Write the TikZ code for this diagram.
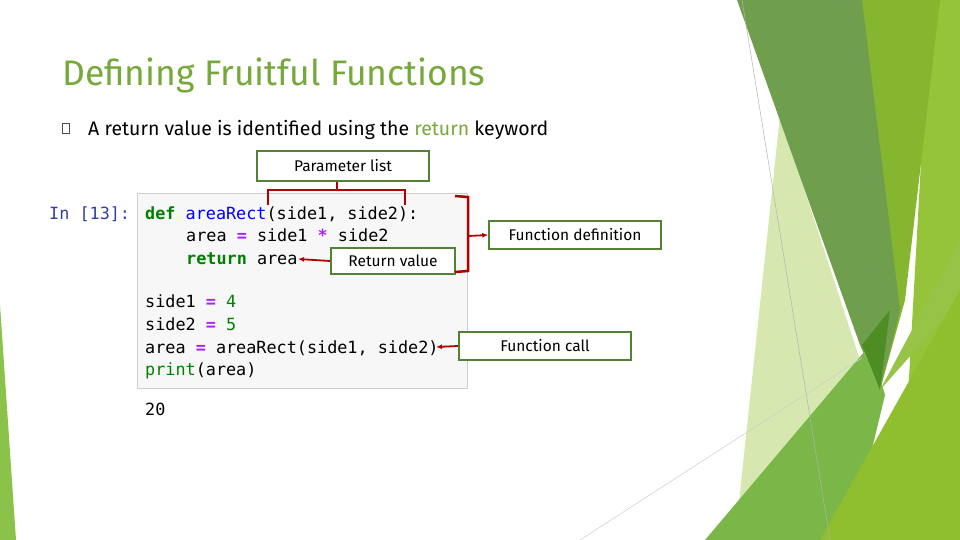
\documentclass[tikz,border=0pt]{standalone}
\usepackage{fontspec}
\setmainfont{Fira Sans}
\setmonofont{DejaVu Sans Mono}
\usetikzlibrary{arrows.meta}
\definecolor{ttl}{HTML}{76A83A}
\definecolor{bx}{HTML}{548235}
\definecolor{rd}{HTML}{B00000}
\definecolor{kw}{HTML}{008000}
\definecolor{fn}{HTML}{0000FF}
\definecolor{op}{HTML}{AA22FF}
\definecolor{inp}{HTML}{303F9F}
\tikzset{lbl/.style={draw=bx,line width=1.6pt,fill=white,inner sep=0pt,font=\fontsize{15.5}{17}\selectfont},
code/.style={anchor=base west,inner sep=0pt,font=\ttfamily\fontsize{16.8}{18}\selectfont},
br/.style={draw=rd,line width=2.5pt},
ar/.style={draw=rd,line width=1.8pt,-{Latex[length=6pt,width=5pt]}}}
\newcommand{\K}[1]{\textcolor{kw}{\textbf{#1}}}
\newcommand{\Q}{\textcolor{op}{\textbf{=}}}
\begin{document}
\begin{tikzpicture}[x=1pt,y=-1pt]
\useasboundingbox (0,0) rectangle (960,540);
% decoration
\fill[fill={rgb,255:red,149;green,196;blue,58}] (930,0) -- (960,0) -- (960,540) -- (900,540) -- cycle;
\fill[fill={rgb,255:red,134;green,181;blue,47}] (860,0) -- (940,0) -- (905,300) -- (880,390) -- cycle;
\fill[fill={rgb,255:red,214;green,232;blue,176}] (780,115) -- (860,360) -- (760,540) -- (735,540) -- cycle;
\fill[fill={rgb,255:red,111;green,158;blue,76}] (737,0) -- (862,0) -- (900,310) -- (880,390) -- (860,345) -- cycle;
\fill[fill={rgb,255:red,122;green,182;blue,72}] (705,540) -- (870,345) -- (885,395) -- (850,540) -- cycle;
\fill[fill={rgb,255:red,78;green,140;blue,36}] (862,345) -- (890,310) -- (880,390) -- cycle;
\fill[fill={rgb,255:red,150;green,196;blue,70}] (880,390) -- (960,240) -- (960,300) -- cycle;
\fill[fill={rgb,255:red,143;green,191;blue,47}] (820,540) -- (960,290) -- (960,540) -- cycle;
\fill[fill={rgb,255:red,139;green,195;blue,74}] (0,305) -- (16,540) -- (0,540) -- cycle;
\draw[gray!60,line width=0.5pt] (742,0) -- (830,540);
\draw[gray!40,line width=0.5pt] (580,540) -- (862,358);
% title and bullet
\node[anchor=base west,inner sep=0pt,text=ttl,font=\fontsize{35.5}{38}\selectfont] (title) at (62,86) {Defining Fruitful Functions};
\node[draw=black!70,line width=0.5pt,minimum width=7pt,minimum height=10pt,inner sep=0pt] (bul) at (66,128) {};
\node[anchor=base west,inner sep=0pt,font=\fontsize{19.5}{22}\selectfont] (body) at (88,136) {A return value is identified using the \textcolor{ttl}{return} keyword};
% code box
\node[draw={rgb,255:red,207;green,207;blue,207},fill={rgb,255:red,247;green,247;blue,247},minimum width=330pt,minimum height=195pt,inner sep=0pt,anchor=north west] (cb) at (137,193) {};
\node[code,text=inp] (inp) at (49,219) {In [13]:};
\node[code] (c1) at (145,219) {\K{def} \textcolor{fn}{areaRect}(side1, side2):};
\node[code] (c2) at (186,241) {area \Q{} side1 \textcolor{op}{\textbf{*}} side2};
\node[code] (c3) at (186,264) {\K{return} area};
\node[code] (c4) at (145,307) {side1 \Q{} \textcolor{kw}{4}};
\node[code] (c5) at (145,330) {side2 \Q{} \textcolor{kw}{5}};
\node[code] (c6) at (145,353) {area \Q{} areaRect(side1, side2)};
\node[code] (c7) at (145,375) {\textcolor{kw}{print}(area)};
\node[code] (out) at (145,415) {20};
% labels
\node[lbl,minimum width=172pt,minimum height=30pt] (pl) at (343,166) {Parameter list};
\node[lbl,minimum width=172pt,minimum height=28pt] (fd) at (575,235) {Function definition};
\node[lbl,minimum width=124pt,minimum height=26pt] (rv) at (393,261) {Return value};
\node[lbl,minimum width=172pt,minimum height=28pt] (fc) at (545,346) {Function call};
% brackets
\coordinate (p1) at (268,205); \coordinate (p2) at (405,205);
\draw[br] (p1) -- (268,190) -- (405,190) -- (p2);
\draw[br] (337,190) -- (pl.south -| 337,0);
\draw[br] (455,196) -- (468,197) -- (468,271) -- (455,272);
\draw[ar] (468,236) -- (fd.west);
\coordinate (rvt) at (298,259);
\draw[ar] (rv.west) -- (rvt);
\coordinate (fct) at (436,347);
\draw[ar] (fc.west) -- (fct);
\end{tikzpicture}
\end{document}
